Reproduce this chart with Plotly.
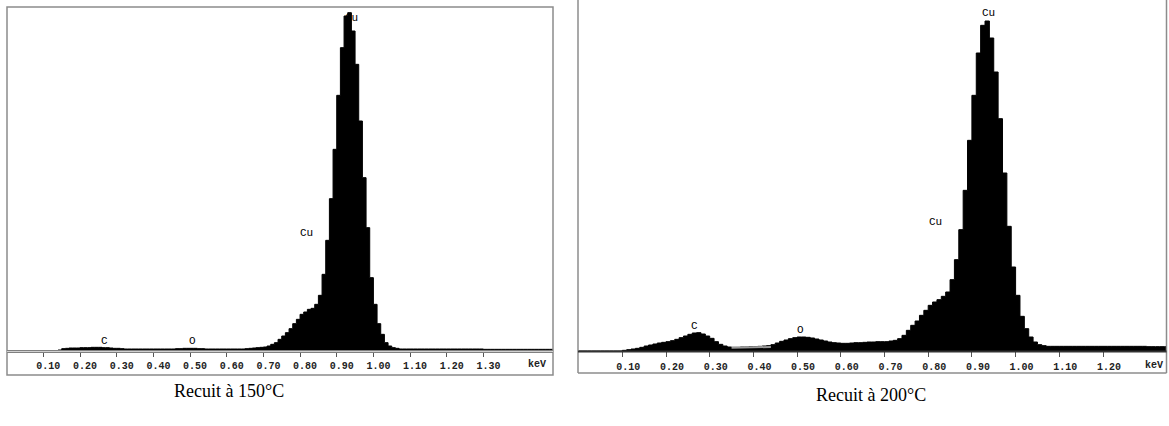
import plotly.graph_objects as go

BIN = 0.01  # keV per channel

# Left spectrum (Recuit à 150°C), channels from 0.00 keV, counts (arbitrary units)
counts_150 = (
    [0] * 10 +
    [0, 0, 0, 0, 3, 7, 8, 9, 9, 9] +
    [10, 10, 10, 11, 11, 11, 10, 10, 9, 8] +
    [8, 7, 6, 6, 6, 6, 6, 6, 6, 6] +
    [6, 6, 6, 6, 6, 6, 7, 7, 8, 8] +
    [8, 8, 7, 7, 6, 6, 6, 6, 6, 6] +
    [6, 6, 6, 6, 6, 7, 8, 9, 10, 11] +
    [12, 15, 20, 25, 35, 45, 55, 67, 82, 95] +
    [110, 117, 125, 128, 140, 167, 230, 332, 457, 605] +
    [767, 910, 1005, 1015, 960, 860, 690, 520, 370, 220] +
    [140, 82, 50, 25, 15, 10, 8, 6, 6, 6] +
    [6] * 10 + [6] * 10 + [5] * 10 + [5] * 10
)

# Right spectrum (Recuit à 200°C)
counts_200 = (
    [0] * 10 +
    [2, 4, 6, 8, 11, 15, 18, 21, 24, 26] +
    [28, 31, 35, 40, 45, 50, 54, 55, 51, 45] +
    [38, 28, 20, 15, 12, 11, 11, 12, 12, 13] +
    [13, 14, 15, 16, 19, 24, 29, 33, 37, 40] +
    [42, 42, 41, 39, 36, 33, 30, 27, 25, 24] +
    [23, 23, 24, 25, 25, 26, 27, 27, 28, 28] +
    [28, 30, 32, 37, 47, 62, 77, 90, 107, 122] +
    [137, 147, 154, 164, 177, 214, 274, 364, 482, 632] +
    [767, 894, 977, 990, 939, 837, 697, 534, 374, 252] +
    [167, 104, 67, 42, 27, 19, 16, 14, 14, 14] +
    [14] * 10 + [14] * 10 + [13] * 5
)

tick_vals_150 = [0.10, 0.20, 0.30, 0.40, 0.50, 0.60, 0.70, 0.80, 0.90, 1.00, 1.10, 1.20, 1.30]
tick_vals_200 = [0.10, 0.20, 0.30, 0.40, 0.50, 0.60, 0.70, 0.80, 0.90, 1.00, 1.10, 1.20]

peak_labels_150 = [("Cu", 0.94, 999), ("Cu", 0.818, 354), ("C", 0.268, 31), ("O", 0.507, 31)]
peak_labels_200 = [("Cu", 0.937, 1013), ("Cu", 0.816, 386), ("C", 0.266, 76), ("O", 0.507, 63)]

captions = ["Recuit à 150°C", "Recuit à 200°C"]

W, H = 1169, 426


def px(x):
    return x / W


def py(y):
    return (H - y) / H


def step_xy(counts):
    xs = [round(i * BIN, 2) for i in range(len(counts))] + [round(len(counts) * BIN, 2)]
    ys = list(counts) + [counts[-1]]
    return xs, ys


fig = go.Figure()
for counts, xa, ya in [(counts_150, "x", "y"), (counts_200, "x2", "y2")]:
    xs, ys = step_xy(counts)
    fig.add_trace(go.Scatter(
        x=xs, y=ys, xaxis=xa, yaxis=ya, mode="lines", line_shape="hv",
        line=dict(color="black", width=1), fill="tozeroy", fillcolor="black",
        showlegend=False, hoverinfo="skip"))

# faint grey fit line in the 200°C spectrum
fig.add_trace(go.Scatter(x=[0.35, 0.44], y=[10, 12], xaxis="x2", yaxis="y2", mode="lines",
                         line=dict(color="#9a9a9a", width=2), showlegend=False, hoverinfo="skip"))

tickfont = dict(family="Liberation Mono", size=10, color="#222222", weight="bold")

x1_range = [0, (553 - 6.7) / 366.7]
x2_range = [0, (1166 - 578.6) / 437.0]

fig.update_layout(
    width=W, height=H, autosize=False,
    margin=dict(l=0, r=0, t=0, b=0),
    paper_bgcolor="white", plot_bgcolor="white",
    xaxis=dict(domain=[px(6.7), px(553)], range=x1_range, anchor="y",
               tickvals=tick_vals_150, ticktext=[f"{v:.2f}" for v in tick_vals_150],
               ticks="outside", ticklen=5, tickwidth=1, tickcolor="#555555",
               tickfont=tickfont, ticklabelshift=5, ticklabelstandoff=0,
               showgrid=False, zeroline=False, showline=False, fixedrange=True),
    yaxis=dict(domain=[py(351), py(7)], range=[0, 1032], anchor="x", visible=False,
               showgrid=False, zeroline=False),
    xaxis2=dict(domain=[px(578.6), px(1166)], range=x2_range, anchor="y2",
                tickvals=tick_vals_200, ticktext=[f"{v:.2f}" for v in tick_vals_200],
                ticks="outside", ticklen=5, tickwidth=1, tickcolor="#555555",
                tickfont=tickfont, ticklabelshift=6, ticklabelstandoff=1,
                showgrid=False, zeroline=False, showline=False, fixedrange=True),
    yaxis2=dict(domain=[py(351), 1.0], range=[0, 1053], anchor="x2", visible=False,
                showgrid=False, zeroline=False),
)

shapes = []
# left panel frame
shapes.append(dict(type="rect", xref="paper", yref="paper", x0=px(7), x1=px(553), y0=py(375), y1=py(7),
                   line=dict(color="#8c8c8c", width=1.5)))
# left baseline
shapes.append(dict(type="line", xref="paper", yref="paper", x0=px(7), x1=px(553), y0=py(351.5), y1=py(351.5),
                   line=dict(color="#808080", width=3)))
shapes.append(dict(type="line", xref="paper", yref="paper", x0=px(7), x1=px(553), y0=py(351.5), y1=py(351.5),
                   line=dict(color="#d0d0d0", width=1)))
# right panel frame (open at top)
shapes.append(dict(type="line", xref="paper", yref="paper", x0=px(578), x1=px(578), y0=py(373), y1=1.0,
                   line=dict(color="#8c8c8c", width=1.5)))
shapes.append(dict(type="line", xref="paper", yref="paper", x0=px(1166.5), x1=px(1166.5), y0=py(373), y1=1.0,
                   line=dict(color="#8c8c8c", width=1.5)))
shapes.append(dict(type="line", xref="paper", yref="paper", x0=px(578), x1=px(1166.5), y0=py(373), y1=py(373),
                   line=dict(color="#8c8c8c", width=1.5)))
# right baseline
shapes.append(dict(type="line", xref="paper", yref="paper", x0=px(578), x1=px(1166.5), y0=py(351.5), y1=py(351.5),
                   line=dict(color="#333333", width=2)))
fig.update_layout(shapes=shapes)

annfont = dict(family="Liberation Mono", size=11, color="black")
anns = []
for text, x, y in peak_labels_150:
    anns.append(dict(text=text, x=x, y=y, xref="x", yref="y", showarrow=False, font=annfont,
                     xanchor="center", yanchor="middle"))
for text, x, y in peak_labels_200:
    anns.append(dict(text=text, x=x, y=y, xref="x2", yref="y2", showarrow=False, font=annfont,
                     xanchor="center", yanchor="middle"))
anns.append(dict(text="keV", x=px(537), y=py(364), xref="paper", yref="paper", showarrow=False,
                 font=tickfont, xanchor="center", yanchor="middle"))
anns.append(dict(text="keV", x=px(1154), y=py(365), xref="paper", yref="paper", showarrow=False,
                 font=tickfont, xanchor="center", yanchor="middle"))
capfont = dict(family="Liberation Serif", size=18, color="black")
anns.append(dict(text=captions[0], x=px(228.5), y=py(391), xref="paper", yref="paper", showarrow=False,
                 font=capfont, xanchor="center", yanchor="middle"))
anns.append(dict(text=captions[1], x=px(870.5), y=py(395), xref="paper", yref="paper", showarrow=False,
                 font=capfont, xanchor="center", yanchor="middle"))
fig.update_layout(annotations=anns)

fig.write_html("out.html", config={"displayModeBar": False},
               post_script="document.body.style.margin='0';")
